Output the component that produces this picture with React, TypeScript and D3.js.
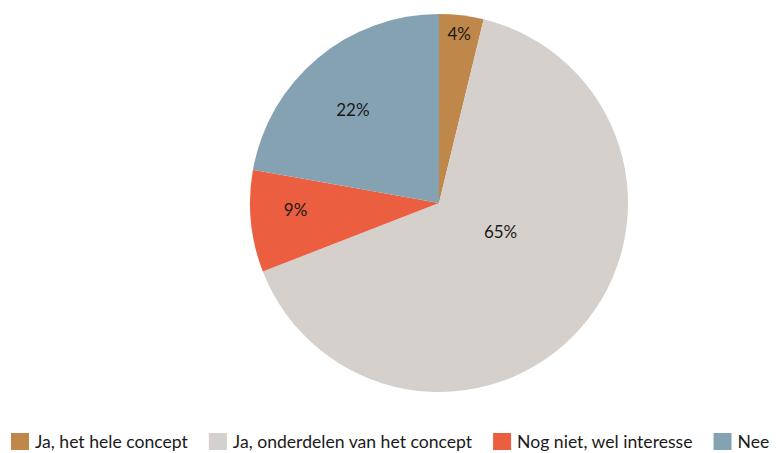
import { useRef, useEffect } from 'react';
import * as d3 from 'd3';

const categories = ['Ja, het hele concept', 'Ja, onderdelen van het concept', 'Nog niet, wel interesse', 'Nee'];
const values = [3.8, 65.3, 8.7, 22.2];
const colors = ['#C0874A', '#D5D0CC', '#EB5E40', '#85A2B3'];
// label distance as a fraction of the radius and angle nudge (Excel "best fit" style)
const labelRadius = [0.9, 0.36, 0.76, 0.67];
const labelShift = [0, -0.28, 0.05, -0.05];

export default function App() {
    const svgRef = useRef<SVGSVGElement>(null);

    useEffect(() => {
        if (!svgRef.current) return;
        const svg = d3.select(svgRef.current);
        svg.selectAll('*').remove();

        const W = 776, H = 453;
        const cx = 439, cy = 203, r = 189;
        const font = 'Lato, sans-serif';

        const pie = d3.pie<number>().sort(null).value(d => d);
        const arcs = pie(values);
        const arc = d3.arc<d3.PieArcDatum<number>>().innerRadius(0).outerRadius(r);

        const g = svg.append('g').attr('transform', `translate(${cx},${cy})`);

        g.selectAll('path')
            .data(arcs)
            .enter().append('path')
            .attr('d', arc)
            .attr('fill', (_, i) => colors[i]);

        g.selectAll('text')
            .data(arcs)
            .enter().append('text')
            .attr('transform', (d, i) => {
                const lr = r * labelRadius[i];
                const a = (d.startAngle + d.endAngle) / 2 + labelShift[i];
                return `translate(${Math.sin(a) * lr},${-Math.cos(a) * lr})`;
            })
            .attr('text-anchor', 'middle')
            .attr('dy', '0.35em')
            .attr('font-family', font)
            .attr('font-size', '17px')
            .attr('fill', '#1a1a1a')
            .text(d => `${Math.round(d.data)}%`);

        // Legend
        const legend = svg.append('g').attr('transform', `translate(11, 433)`);
        let x = 0;
        categories.forEach((c, i) => {
            const item = legend.append('g').attr('transform', `translate(${x},0)`);
            item.append('rect')
                .attr('width', 18).attr('height', 17)
                .attr('fill', colors[i]);
            const t = item.append('text')
                .attr('x', 24)
                .attr('y', 9)
                .attr('dy', '0.35em')
                .attr('font-family', font)
                .attr('font-size', '17.6px')
                .attr('fill', '#1a1a1a')
                .text(c);
            const w = (t.node() as SVGTextElement).getComputedTextLength();
            x += 24 + w + 21;
        });

        svg.attr('width', W).attr('height', H);
    }, []);

    return (
        <svg ref={svgRef} width={776} height={453}
            style={{ position: 'absolute', left: 0, top: 0, background: '#fff' }} />
    );
}
